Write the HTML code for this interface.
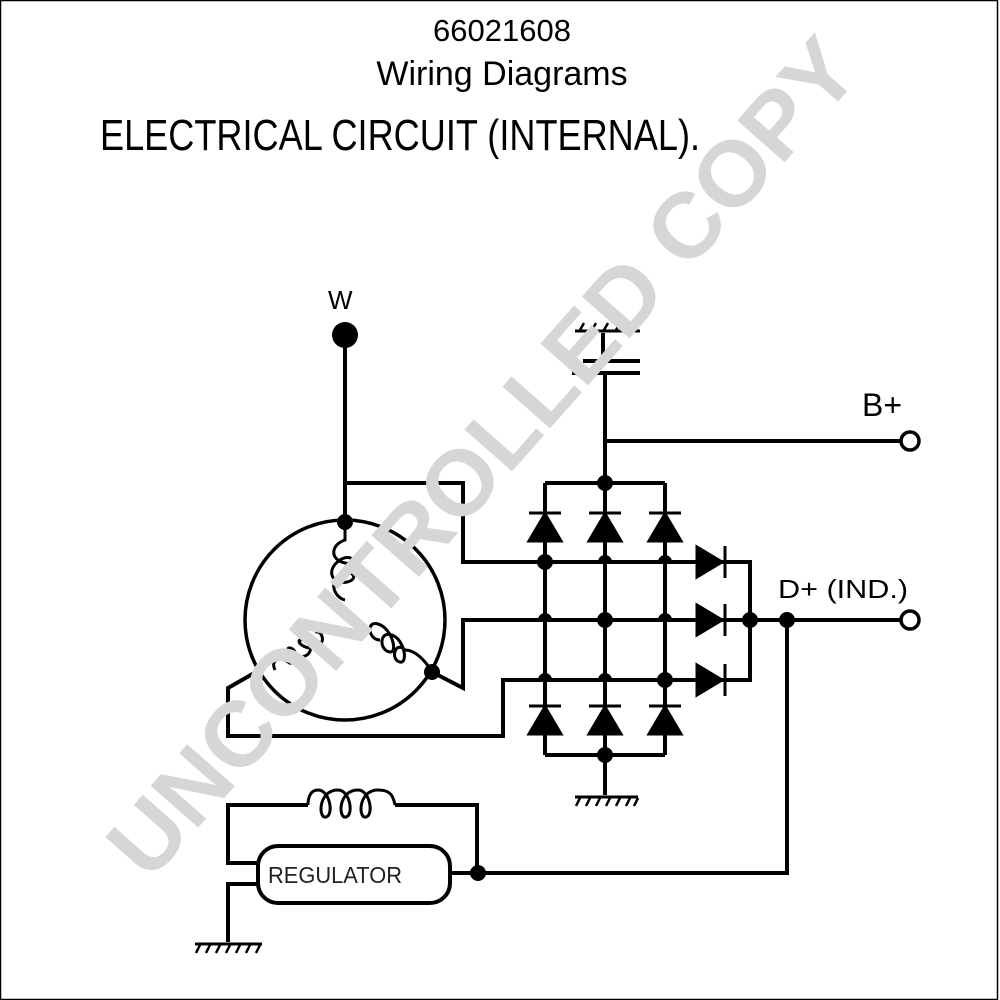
<!DOCTYPE html>
<html><head><meta charset="utf-8"><style>
html,body{margin:0;padding:0;background:#fff;}
svg{display:block;}
text{font-family:"Liberation Sans",sans-serif;}
</style></head><body>
<svg width="1000" height="1000" viewBox="0 0 1000 1000" xmlns="http://www.w3.org/2000/svg">
<rect x="0.5" y="0.5" width="997" height="999" fill="#fff" stroke="#000" stroke-width="1.5"/>
<text x="502" y="41" font-size="31" text-anchor="middle">66021608</text>
<text x="502" y="85" font-size="34" text-anchor="middle">Wiring Diagrams</text>
<text x="100" y="150" font-size="44" textLength="600" lengthAdjust="spacingAndGlyphs">ELECTRICAL CIRCUIT (INTERNAL).</text>
<text x="328" y="309" font-size="26">W</text>
<text x="862" y="416" font-size="32">B+</text>
<text x="778" y="598" font-size="26" textLength="130" lengthAdjust="spacingAndGlyphs">D+ (IND.)</text>

<g stroke="#000" stroke-width="4" fill="none">
<line x1="345" y1="335" x2="345" y2="522"/>
<path d="M345 483 H463 V562 H545"/>
<circle cx="345" cy="620" r="100" stroke-width="3.5"/>
<path d="M432 672 L463 688 V620 H545"/>
<path d="M256 672 L228 688 V736 H503 V680 H545"/>
<path stroke-width="3" d="M345 522 V540 C330 545 330 560 345 563 C360 566 352 552 340 560 C325 570 332 585 347 582 C360 579 352 568 340 575 C328 582 335 598 345 600"/>
<path stroke-width="3" d="M432 672 C425 660 415 650 405 650 C395 640 390 660 400 662 C408 664 405 640 392 635 C380 630 378 650 390 652 C398 653 392 628 378 624 C366 620 368 640 380 640"/>
<path stroke-width="3" d="M275 670 C270 660 280 655 288 662 C295 668 300 650 290 648 C284 647 292 660 305 656 C315 652 310 638 300 640 C296 641 305 652 318 646 C326 642 322 630 315 632"/>

<path d="M545 483 V755 M605 373 V795 M665 483 V755 M545 483 H665 M545 755 H665"/>
<path d="M545 562 H750 V680 H665 M545 620 H787 M545 680 H665"/>
<line x1="605" y1="441" x2="900" y2="441"/>
<line x1="787" y1="620" x2="900" y2="620"/>
<line x1="583" y1="361" x2="640" y2="361"/>
<line x1="572" y1="373" x2="640" y2="373"/>
<line x1="603" y1="333" x2="603" y2="358"/>
<line x1="575" y1="331" x2="640" y2="331" stroke-width="3"/>
<line x1="575" y1="797" x2="638" y2="797" stroke-width="3"/>
<path d="M787 620 V873 H450"/>
<path d="M258 863 H228 V805 H308 M395 805 H477 V873"/>
<path stroke-width="3" d="M308 805 C308 795 312 790 318 790 M318 790 C330 790 334 815 326 817 C318 819 318 790 338 790 C350 790 354 815 346 817 C338 819 338 790 358 790 C370 790 374 815 366 817 C358 819 358 790 378 790 C390 790 393 795 395 805"/>
<path d="M258 884 H228 V942"/>
<line x1="195" y1="944" x2="262" y2="944" stroke-width="3"/>
<rect x="258" y="846" width="192" height="57" rx="20" stroke-width="4"/>
</g>
<g stroke="#000" stroke-width="2.5">
<path d="M580 798 l-4 8 M590 798 l-4 8 M600 798 l-4 8 M610 798 l-4 8 M620 798 l-4 8 M630 798 l-4 8 M638 798 l-4 8"/>
<path d="M200 945 l-4 8 M210 945 l-4 8 M220 945 l-4 8 M230 945 l-4 8 M240 945 l-4 8 M250 945 l-4 8 M260 945 l-4 8"/>
<path d="M580 330 l4 -7 M592 330 l4 -7 M604 330 l4 -7 M616 330 l4 -7 M628 330 l4 -7"/>
</g>
<g fill="#000" stroke="#000" stroke-width="3">
<path d="M529 541 L561 541 L545 514 Z M529 513 H561"/>
<path d="M589 541 L621 541 L605 514 Z M589 513 H621"/>
<path d="M649 541 L681 541 L665 514 Z M649 513 H681"/>
<path d="M529 734 L561 734 L545 707 Z M529 706 H561"/>
<path d="M589 734 L621 734 L605 707 Z M589 706 H621"/>
<path d="M649 734 L681 734 L665 707 Z M649 706 H681"/>
<path d="M697 547 L697 577 L722 562 Z M725 546 V578"/>
<path d="M697 605 L697 635 L722 620 Z M725 604 V636"/>
<path d="M697 665 L697 695 L722 680 Z M725 664 V696"/>
</g>
<g fill="#000">
<circle cx="345" cy="335" r="13"/>
<circle cx="345" cy="522" r="8"/>
<circle cx="432" cy="672" r="8"/>
<circle cx="605" cy="483" r="8"/>
<circle cx="605" cy="755" r="8"/>
<circle cx="545" cy="562" r="8"/>
<circle cx="605" cy="620" r="8"/>
<circle cx="665" cy="680" r="8"/>
<circle cx="750" cy="620" r="8"/>
<circle cx="787" cy="620" r="8"/>
<circle cx="478" cy="873" r="8"/>
<path d="M598 562 a7 7 0 0 1 14 0 Z M658 562 a7 7 0 0 1 14 0 Z M538 620 a7 7 0 0 1 14 0 Z M658 620 a7 7 0 0 1 14 0 Z M538 680 a7 7 0 0 1 14 0 Z M598 680 a7 7 0 0 1 14 0 Z"/>
</g>
<g fill="#fff" stroke="#000" stroke-width="3.5">
<circle cx="910" cy="441" r="9"/>
<circle cx="910" cy="620" r="9"/>
</g>
<text x="268" y="883" font-size="23" textLength="134" lengthAdjust="spacingAndGlyphs" fill="#222">REGULATOR</text>
<text x="0" y="0" transform="translate(488 462) rotate(-48.6)" font-size="92" font-weight="bold" fill="#d6d6d6" text-anchor="middle" dominant-baseline="middle" textLength="1080" lengthAdjust="spacingAndGlyphs">UNCONTROLLED COPY</text>
</svg>
</body></html>
